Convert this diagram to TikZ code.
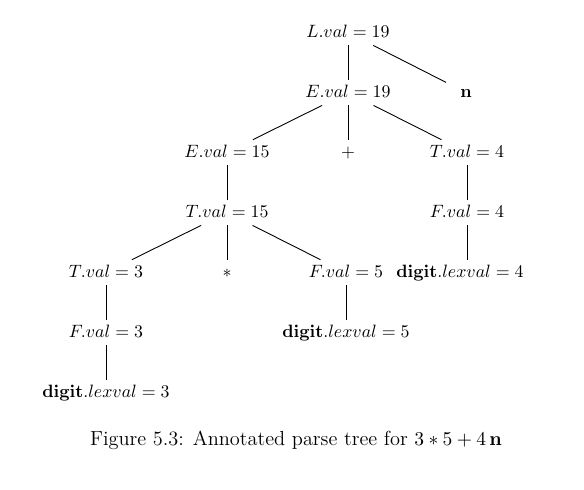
\documentclass[tikz,border=0pt]{standalone}
\usepackage{amsmath}
\usepackage{tikz}

\begin{document}
\begin{tikzpicture}[
    x=0.56pt, y=-0.56pt,
    treenode/.style={anchor=base, inner xsep=2pt, inner ysep=2.5pt, text height=7pt, text depth=2pt},
    treeline/.style={line width=0.5pt, black}
]
    \useasboundingbox (0,0) rectangle (584,489);

    % Tree nodes
    \node[treenode] (l)   at (348,37)  {$L.val = 19$};
    \node[treenode, minimum width=22pt] (n) at (466,97) {$\mathbf{n}$};
    \node[treenode] (e1)  at (348,97)  {$E.val = 19$};
    \node[treenode] (e2)  at (227,157) {$E.val = 15$};
    \node[treenode] (pl)  at (348,157) {$+$};
    \node[treenode] (t1)  at (467,157) {$T.val = 4$};
    \node[treenode] (t2)  at (227,217) {$T.val = 15$};
    \node[treenode] (f1)  at (467,217) {$F.val = 4$};
    \node[treenode] (t3)  at (106,277) {$T.val = 3$};
    \node[treenode] (st)  at (227,277) {$*$};
    \node[treenode] (f2)  at (346,277) {$F.val = 5$};
    \node[treenode] (d1)  at (460,277) {$\mathbf{digit}.lexval = 4$};
    \node[treenode] (f3)  at (106,337) {$F.val = 3$};
    \node[treenode] (d2)  at (346,337) {$\mathbf{digit}.lexval = 5$};
    \node[treenode] (d3)  at (106,397) {$\mathbf{digit}.lexval = 3$};

    % Edges
    \draw[treeline] (l) -- (e1);
    \draw[treeline] (l) -- (n);
    \draw[treeline] (e1) -- (e2);
    \draw[treeline] (e1) -- (pl);
    \draw[treeline] (e1) -- (t1);
    \draw[treeline] (e2) -- (t2);
    \draw[treeline] (t1) -- (f1);
    \draw[treeline] (t2) -- (t3);
    \draw[treeline] (t2) -- (st);
    \draw[treeline] (t2) -- (f2);
    \draw[treeline] (f1) -- (f1 |- d1.north);
    \draw[treeline] (t3) -- (f3);
    \draw[treeline] (f2) -- (d2);
    \draw[treeline] (f3) -- (d3);

    % Caption
    \node[anchor=base, font=\fontsize{11.4}{14}\selectfont] (cap) at (296,445) {Figure 5.3: Annotated parse tree for $3*5+4\,\mathbf{n}$};
\end{tikzpicture}
\end{document}
